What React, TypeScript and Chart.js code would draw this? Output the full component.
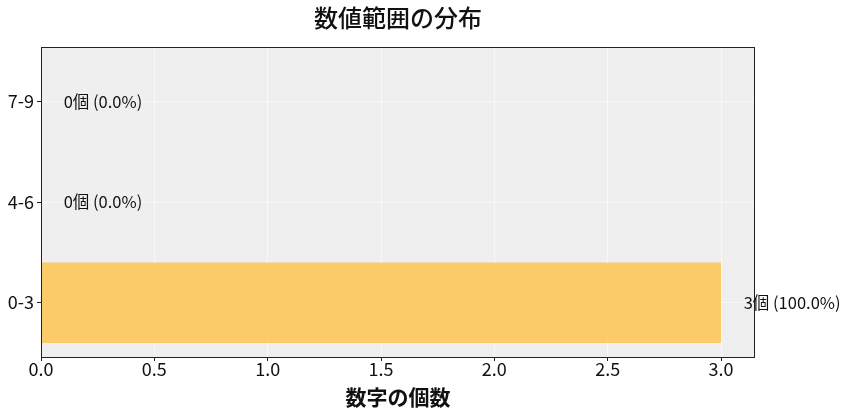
import React, { useEffect, useRef } from "react";
import { Chart, registerables } from "chart.js";

Chart.register(...registerables);

const categories = ["0-3", "4-6", "7-9"];
const counts = [3, 0, 0];
const percents = [100.0, 0.0, 0.0];
const titleText = "数値範囲の分布";
const xLabel = "数字の個数";
const FONT = "'Noto Sans CJK JP', 'Noto Sans', sans-serif";

const frame = {
  id: "frame",
  beforeDraw(chart: any) {
    const { ctx, chartArea: a } = chart;
    ctx.save();
    ctx.fillStyle = "#efefef";
    ctx.fillRect(a.left, a.top, a.right - a.left, a.bottom - a.top);
    ctx.restore();
  },
  afterDraw(chart: any) {
    const { ctx, chartArea: a } = chart;
    ctx.save();
    ctx.strokeStyle = "#222";
    ctx.lineWidth = 1;
    ctx.strokeRect(a.left + 0.5, a.top + 0.5, a.right - a.left - 1, a.bottom - a.top);
    // title
    ctx.fillStyle = "#111";
    ctx.font = `500 24px ${FONT}`;
    ctx.textAlign = "center";
    ctx.textBaseline = "middle";
    ctx.fillText(titleText, (a.left + a.right) / 2, 18);
    // value labels
    const xs = chart.scales.x;
    const ys = chart.scales.y;
    ctx.font = `16.5px ${FONT}`;
    ctx.textAlign = "left";
    counts.forEach((c, i) => {
      const px = xs.getPixelForValue(c + 0.1);
      const py = ys.getPixelForValue(i);
      ctx.fillText(`${c}個 (${percents[i].toFixed(1)}%)`, px, py);
    });
    ctx.restore();
  },
};

export default function App() {
  const ref = useRef<HTMLCanvasElement>(null);
  useEffect(() => {
    document.body.style.margin = "0";
    const chart = new Chart(ref.current!, {
      type: "bar",
      data: {
        datasets: [
          {
            data: counts.map((c, i) => ({ x: c, y: i })),
            backgroundColor: "rgba(255,190,60,0.75)",
            borderWidth: 0,
            barPercentage: 0.8,
            categoryPercentage: 1,
          },
        ],
      },
      plugins: [frame],
      options: {
        indexAxis: "y",
        animation: false,
        responsive: false,
        layout: { padding: { top: 47, right: 92, left: 0, bottom: 0 } },
        plugins: { legend: { display: false }, tooltip: { enabled: false } },
        scales: {
          x: {
            type: "linear",
            min: 0,
            max: 3.15,
            offset: false,
            afterBuildTicks: (s: any) => {
              s.ticks = [0, 0.5, 1, 1.5, 2, 2.5, 3].map((v) => ({ value: v }));
            },
            afterFit: (s: any) => {
              s.height = 59;
            },
            ticks: {
              color: "#111",
              font: { family: FONT, size: 18 },
              padding: -3,
              callback: (v: any) => Number(v).toFixed(1),
            },
            grid: {
              color: "rgba(255,255,255,0.55)",
              tickColor: "#222",
              tickLength: 4,
              offset: false,
            },
            border: { display: false },
            title: {
              display: true,
              text: xLabel,
              color: "#111",
              font: { family: FONT, size: 21, weight: "bold" },
              padding: { top: 0, bottom: 6 },
            },
          },
          y: {
            type: "linear",
            min: -0.54,
            max: 2.54,
            offset: false,
            afterBuildTicks: (s: any) => {
              s.ticks = [0, 1, 2].map((v) => ({ value: v }));
            },
            afterFit: (s: any) => {
              s.width = 41;
            },
            ticks: {
              color: "#111",
              font: { family: FONT, size: 18 },
              padding: 3,
              callback: (v: any) => categories[Number(v)] ?? "",
            },
            grid: {
              color: "rgba(255,255,255,0.55)",
              tickColor: "#222",
              tickLength: 4,
              offset: false,
            },
            border: { display: false },
          },
        },
      },
    });
    return () => chart.destroy();
  }, []);
  return (
    <div style={{ width: 847, height: 416 }}>
      <canvas ref={ref} width={847} height={416} style={{ width: 847, height: 416 }} />
    </div>
  );
}
